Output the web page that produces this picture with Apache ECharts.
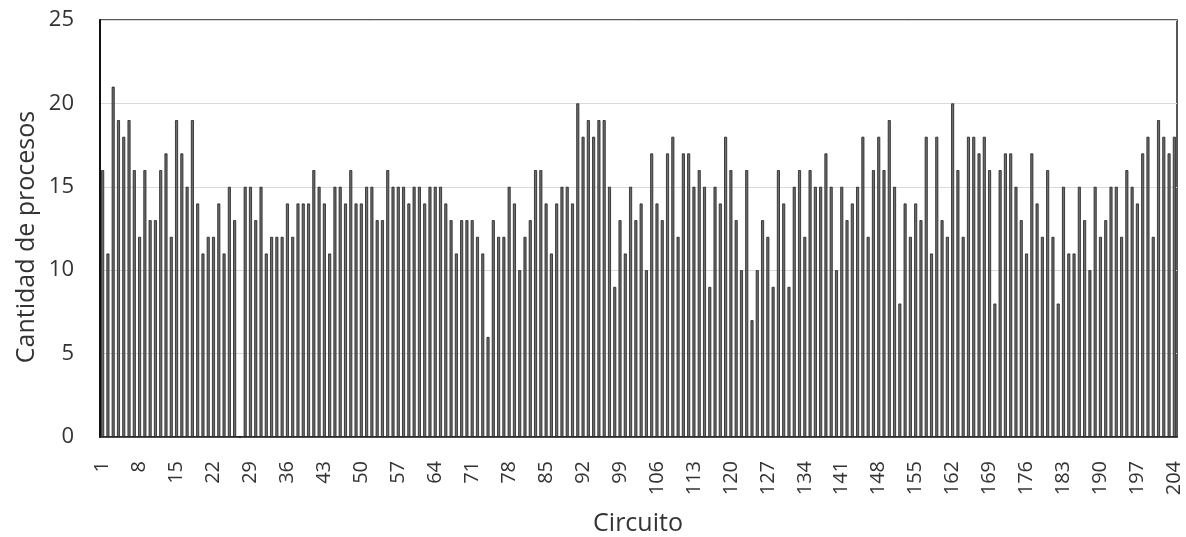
<!DOCTYPE html>
<html>
<head>
<meta charset="utf-8">
<script src="https://cdn.jsdelivr.net/npm/echarts@6/dist/echarts.min.js"></script>
<style>
html,body{margin:0;padding:0;background:#fff;}
#chart{width:1186px;height:537px;}
</style>
</head>
<body>
<div id="chart"></div>
<script>
// Cantidad de procesos por circuito (1..204)
const values1 = [16, 11, 21, 19, 18, 19, 16, 12, 16, 13, 13, 16, 17, 12, 19, 17, 15, 19, 14, 11, 12, 12, 14, 11, 15, 13, 0, 15, 15, 13, 15, 11, 12, 12];
const values2 = [12, 14, 12, 14, 14, 14, 16, 15, 14, 11, 15, 15, 14, 16, 14, 14, 15, 15, 13, 13, 16, 15, 15, 15, 14, 15, 15, 14, 15, 15, 15, 14, 13, 11];
const values3 = [13, 13, 13, 12, 11, 6, 13, 12, 12, 15, 14, 10, 12, 13, 16, 16, 14, 11, 14, 15, 15, 14, 20, 18, 19, 18, 19, 19, 15, 9, 13, 11, 15, 13];
const values4 = [14, 10, 17, 14, 13, 17, 18, 12, 17, 17, 15, 16, 15, 9, 15, 14, 18, 16, 13, 10, 16, 7, 10, 13, 12, 9, 16, 14, 9, 15, 16, 12, 16, 15];
const values5 = [15, 17, 15, 10, 15, 13, 14, 15, 18, 12, 16, 18, 16, 19, 15, 8, 14, 12, 14, 13, 18, 11, 18, 13, 12, 20, 16, 12, 18, 18, 17, 18, 16, 8];
const values6 = [16, 17, 17, 15, 13, 11, 17, 14, 12, 16, 12, 8, 15, 11, 11, 15, 13, 10, 15, 12, 13, 15, 15, 12, 16, 15, 14, 17, 18, 12, 19, 18, 17, 18];
const values = [].concat(values1, values2, values3, values4, values5, values6);
const categories = values.map((v, i) => String(i + 1));
const yTicks = [0, 5, 10, 15, 20, 25];
const xTitle = 'Circuito';
const yTitle = 'Cantidad de procesos';

const FONT = '"Open Sans", "Noto Sans", sans-serif';
const TXT = '#333333';
const chart = echarts.init(document.getElementById('chart'), null, {renderer: 'canvas'});
chart.setOption({
  animation: false,
  backgroundColor: '#fff',
  grid: {left: 100, right: 9, top: 20, bottom: 100, show: true, borderColor: '#222', borderWidth: 1.5, containLabel: false},
  graphic: [
    {type: 'text', x: 638, y: 524,
     style: {text: xTitle, x: 0, y: 0, fill: TXT, font: '25px ' + FONT, align: 'center', verticalAlign: 'middle'}},
    {type: 'text', x: 27, y: 237, rotation: Math.PI / 2,
     style: {text: yTitle, x: 0, y: 0, fill: TXT, font: '25px ' + FONT, align: 'center', verticalAlign: 'middle'}}
  ],
  xAxis: {
    type: 'category',
    data: categories,
    axisLine: {show: true, lineStyle: {color: '#222', width: 1.5}},
    axisTick: {show: false},
    axisLabel: {interval: 6, rotate: 90, fontFamily: FONT, fontSize: 20, color: TXT, margin: 24},
    splitLine: {show: false}
  },
  yAxis: {
    type: 'value',
    min: yTicks[0],
    max: yTicks[yTicks.length - 1],
    interval: 5,
    axisLine: {show: true, lineStyle: {color: '#111', width: 2}},
    axisTick: {show: false},
    axisLabel: {fontFamily: FONT, fontSize: 22, color: TXT, margin: 26},
    splitLine: {show: true, lineStyle: {color: '#d9d9d9', width: 1}}
  },
  series: [{
    type: 'bar',
    data: values,
    barWidth: 3,
    itemStyle: {color: '#6e6e6e', borderColor: '#1e1e1e', borderWidth: 0.8}
  }]
});
</script>
</body>
</html>
